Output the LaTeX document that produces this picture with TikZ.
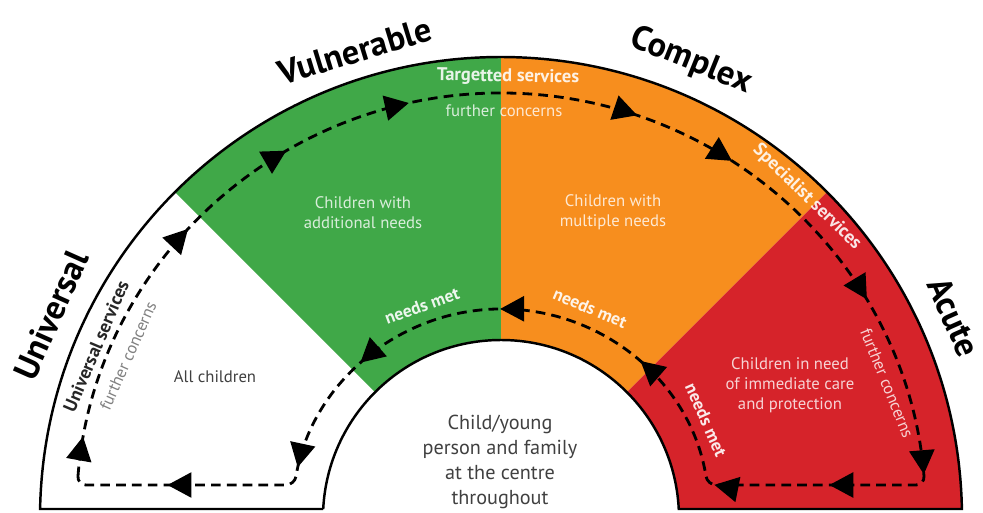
\documentclass[tikz,border=0pt]{standalone}
\usepackage{fontspec}
\setmainfont{PT Sans}
\usetikzlibrary{arrows.meta,decorations.markings}

\definecolor{supportgreen}{RGB}{64,168,72}
\definecolor{supportorange}{RGB}{247,142,30}
\definecolor{supportred}{RGB}{214,35,42}

\tikzset{
    levellabel/.style={inner sep=0pt, font=\bfseries\fontsize{19.5}{22}\selectfont},
    servicelabel/.style={inner sep=0pt, text=white, text opacity=0.88, font=\bfseries\fontsize{10.5}{12}\selectfont},
    concernlabel/.style={inner sep=0pt, text=white, text opacity=0.8, font=\fontsize{9.5}{11}\selectfont},
    metlabel/.style={inner sep=0pt, text=white, text opacity=0.9, font=\bfseries\fontsize{10}{12}\selectfont},
    sectorlabel/.style={inner sep=0pt, align=center, text=white, text opacity=0.8, font=\fontsize{9.5}{11.5}\selectfont},
    pathway/.style={line width=1.6pt, dash pattern=on 5.5pt off 3.5pt, rounded corners=5pt},
    flowtip/.style={postaction={decorate, decoration={markings, mark=at position #1 with {\arrow{Triangle[length=0.48cm, width=0.5cm]}}}}}
}

\begin{document}
\begin{tikzpicture}
            \useasboundingbox (-10.02,0.12) rectangle (9.64,10.36);
            \begin{scope}
            \clip (-10.02,0.18) rectangle (9.64,10.36);
            \fill [supportgreen] (135:3.56) -- (135:9.22) arc [start angle=135, end angle=90, radius=9.22] -- (90:3.56) arc [start angle=90, end angle=135, radius=3.56] -- cycle;
            \fill [supportorange] (90:3.56) -- (90:9.22) arc [start angle=90, end angle=45, radius=9.22] -- (45:3.56) arc [start angle=45, end angle=90, radius=3.56] -- cycle;
            \fill [supportred] (45:3.56) -- (45:9.22) arc [start angle=45, end angle=0, radius=9.22] -- (0:3.56) arc [start angle=0, end angle=45, radius=3.56] -- cycle;
            \end{scope}
            \draw [line width=1.4pt] (-3.555,0.18) -- (178.88:9.22) arc [start angle=178.88, end angle=1.12, radius=9.22] -- (3.555,0.18) arc [start angle=2.9, end angle=177.1, radius=3.56];
            \draw [pathway, flowtip/.list={0.8cm,5.52cm,8.04cm,10.68cm,15.31cm,17.42cm,21.32cm,25.03cm,27.07cm,29.37cm,32.33cm,35.39cm,38.45cm,40.93cm,43.77cm}] (-8.474,0.66) arc [start angle=175.55, end angle=4.45, radius=8.5] -- (4.128,0.66) arc [start angle=9.08, end angle=170.92, radius=4.18] -- cycle;
            \node [levellabel, rotate=66] (universal) at (-9.0,4.06) {Universal};
            \node [levellabel, rotate=17] (vulnerable) at (-2.92,9.34) {Vulnerable};
            \node [levellabel, rotate=-22] (complex) at (3.8,9.14) {Complex};
            \node [levellabel, rotate=-66] (acute) at (9.06,4.02) {Acute};
            \node [servicelabel, text=black!85, text opacity=1, rotate=67] (universalservices) at (-8.1,3.44) {Universal services};
            \node [servicelabel, rotate=-1] (targetted) at (0.14,8.82) {Targetted services};
            \node [servicelabel, rotate=-44] (specialist) at (6.12,6.42) {Specialist services};
            \node [concernlabel, text=black!50, text opacity=1, rotate=66] (concernsleft) at (-7.46,3.24) {further concerns};
            \node [concernlabel] (concernstop) at (0.06,8.14) {further concerns};
            \node [concernlabel, rotate=-68] (concernsright) at (7.72,2.7) {further concerns};
            \node [metlabel, rotate=20] (metgreen) at (-1.58,4.24) {needs met};
            \node [metlabel, rotate=-23] (metorange) at (1.78,4.2) {needs met};
            \node [metlabel, rotate=-66] (metred) at (4.1,1.96) {needs met};
            \node [sectorlabel, text=black!75, text opacity=1] (allchildren) at (-5.72,2.82) {All children};
            \node [sectorlabel] (additional) at (-2.76,6.1) {Children with\\additional needs};
            \node [sectorlabel] (multiple) at (2.24,6.12) {Children with\\multiple needs};
            \node [sectorlabel] (immediate) at (5.78,2.66) {Children in need\\of immediate care\\and protection};
            \node [sectorlabel, text=black!75, text opacity=1, font=\fontsize{11.5}{14.2}\selectfont] (centre) at (-0.02,1.12) {Child/young\\person and family\\at the centre\\throughout};
        \end{tikzpicture}
\end{document}
